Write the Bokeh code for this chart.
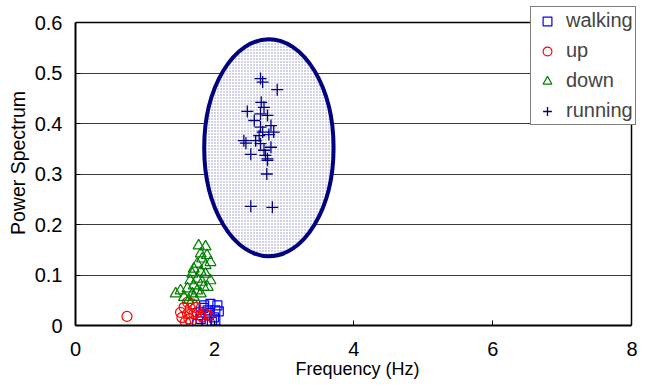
from bokeh.plotting import figure
from bokeh.models import Range1d, FixedTicker, Legend, LegendItem, Grid
from bokeh.embed import file_html
from bokeh.resources import INLINE

# ---- data ----
walking_x = [1.85, 1.94, 2.04, 2.01, 2.06, 1.90, 1.99, 1.80, 1.89, 1.75, 1.96, 1.80, 2.01, 1.92, 1.84]
walking_y = [0.040, 0.043, 0.040, 0.030, 0.028, 0.030, 0.016, 0.013, 0.007, 0.003, 0.007, 0.026, 0.010, 0.020, 0.035]

up_x = [0.74, 1.61, 1.68, 1.56, 1.65, 1.73, 1.51, 1.61, 1.70, 1.53, 1.63, 1.75, 1.80, 1.87, 1.92, 1.58, 1.66, 1.82]
up_y = [0.018, 0.046, 0.043, 0.036, 0.034, 0.036, 0.026, 0.023, 0.023, 0.016, 0.013, 0.026, 0.020, 0.023, 0.020, 0.007, 0.007, 0.017]

down_x = [1.77, 1.87, 1.80, 1.89, 1.82, 1.94, 1.75, 1.87, 1.70, 1.80, 1.68, 1.87, 1.94, 1.75,
          1.65, 1.82, 1.70, 1.84, 1.90, 1.61, 1.51, 1.44, 1.75, 1.68, 1.80, 1.56, 1.70, 1.63]
down_y = [0.158, 0.156, 0.142, 0.139, 0.132, 0.125, 0.122, 0.119, 0.112, 0.106, 0.102, 0.102, 0.089, 0.092,
          0.089, 0.086, 0.079, 0.076, 0.076, 0.073, 0.069, 0.063, 0.069, 0.063, 0.063, 0.056, 0.056, 0.050]

running_x = [2.66, 2.69, 2.90, 2.67, 2.71, 2.47, 2.66, 2.57, 2.76, 2.81, 2.66, 2.85, 2.69, 2.64,
             2.78, 2.42, 2.45, 2.59, 2.66, 2.81, 2.71, 2.73, 2.52, 2.76, 2.76, 2.75, 2.52, 2.83]
running_y = [0.489, 0.482, 0.467, 0.442, 0.432, 0.424, 0.419, 0.406, 0.416, 0.396, 0.393, 0.383, 0.383, 0.376,
             0.378, 0.366, 0.361, 0.366, 0.360, 0.353, 0.347, 0.337, 0.339, 0.330, 0.327, 0.300, 0.236, 0.234]

# highlighted region around the running cluster
ellipse_cx = [2.78]
ellipse_cy = [0.352]
ellipse_w = [1.86]
ellipse_h = [0.43]

x_ticks = [0, 2, 4, 6, 8]
y_ticks = [0, 0.1, 0.2, 0.3, 0.4, 0.5, 0.6]
y_tick_labels = ["0", "0.1", "0.2", "0.3", "0.4", "0.5", "0.6"]

FONT = "Liberation Sans"
x_lo, x_hi = x_ticks[0], x_ticks[-1]
y_lo, y_hi = y_ticks[0], y_ticks[-1]

# frame is extended slightly past the axis limits so the legend can overlap the corner
p = figure(width=639, height=384, output_backend="svg", toolbar_location=None,
           x_range=Range1d(x_lo, x_hi + 0.108), y_range=Range1d(y_lo, y_hi + 0.0436),
           min_border_left=75, min_border_right=0, min_border_top=0, min_border_bottom=59)

p.outline_line_color = None
p.xgrid.visible = False
p.ygrid.ticker = FixedTicker(ticks=y_ticks[:-1])
p.ygrid.cross_bounds = (x_lo, x_hi)
p.ygrid.grid_line_color = "#3a3a3a"
p.ygrid.grid_line_width = 1

# plot box (top and right edges)
top_edge = Grid(dimension=1, ticker=FixedTicker(ticks=[y_hi]), cross_bounds=(x_lo, x_hi),
                grid_line_color="black", grid_line_width=1.5)
right_edge = Grid(dimension=0, ticker=FixedTicker(ticks=[x_hi]), cross_bounds=(y_lo, y_hi),
                  grid_line_color="black", grid_line_width=1.5)
p.add_layout(top_edge)
p.add_layout(right_edge)

p.xaxis.ticker = FixedTicker(ticks=x_ticks)
p.yaxis.ticker = FixedTicker(ticks=y_ticks)
p.xaxis.bounds = (x_lo, x_hi)
p.yaxis.bounds = (y_lo, y_hi)
p.yaxis.major_label_overrides = {t: l for t, l in zip(y_ticks, y_tick_labels)}

for ax in (p.xaxis[0], p.yaxis[0]):
    ax.axis_line_color = "black"
    ax.axis_line_width = 2
    ax.major_tick_in = 5
    ax.major_tick_out = 0
    ax.minor_tick_line_color = None
    ax.major_label_text_font = FONT
    ax.major_label_text_font_size = "20px"
    ax.major_label_text_color = "black"
    ax.axis_label_text_font = FONT
    ax.axis_label_text_font_style = "normal"
    ax.axis_label_text_color = "black"

p.xaxis.axis_label = "Frequency (Hz)"
p.yaxis.axis_label = "Power Spectrum"
p.xaxis.axis_label_text_font_size = "18px"
p.yaxis.axis_label_text_font_size = "19.5px"
p.xaxis.major_label_standoff = 16
p.xaxis.axis_label_standoff = 0
p.yaxis.major_label_standoff = 13
p.yaxis.axis_label_standoff = 3

p.ellipse(x=ellipse_cx, y=ellipse_cy, width=ellipse_w, height=ellipse_h,
          fill_color="white", line_color="#000080", line_width=4,
          hatch_pattern=".", hatch_color="#000080", hatch_alpha=0.45, hatch_scale=3, hatch_weight=1)

r_walk = p.scatter(walking_x, walking_y, marker="square", size=9, fill_color=None,
                   line_color="#0000FF", line_width=1.2)
r_up = p.scatter(up_x, up_y, marker="circle", size=10, fill_color=None,
                 line_color="#FF0000", line_width=1.2)
r_down = p.scatter(down_x, down_y, marker="triangle", size=11, fill_color=None,
                   line_color="#008000", line_width=1.2)
r_run = p.scatter(running_x, running_y, marker="cross", size=12,
                  line_color="#000080", line_width=1.3)

legend = Legend(items=[
    LegendItem(label="walking", renderers=[r_walk]),
    LegendItem(label="up", renderers=[r_up]),
    LegendItem(label="down", renderers=[r_down]),
    LegendItem(label="running", renderers=[r_run]),
], location=(455, 200))
legend.label_text_font = FONT
legend.label_text_font_size = "20px"
legend.label_height = 22
legend.glyph_height = 22
legend.glyph_width = 28
legend.spacing = 7
legend.padding = 2
legend.margin = 0
legend.label_standoff = 5
legend.border_line_color = "black"
legend.border_line_width = 1
legend.background_fill_alpha = 1
p.add_layout(legend, "center")

open("out.html", "w").write(file_html(p, INLINE))
